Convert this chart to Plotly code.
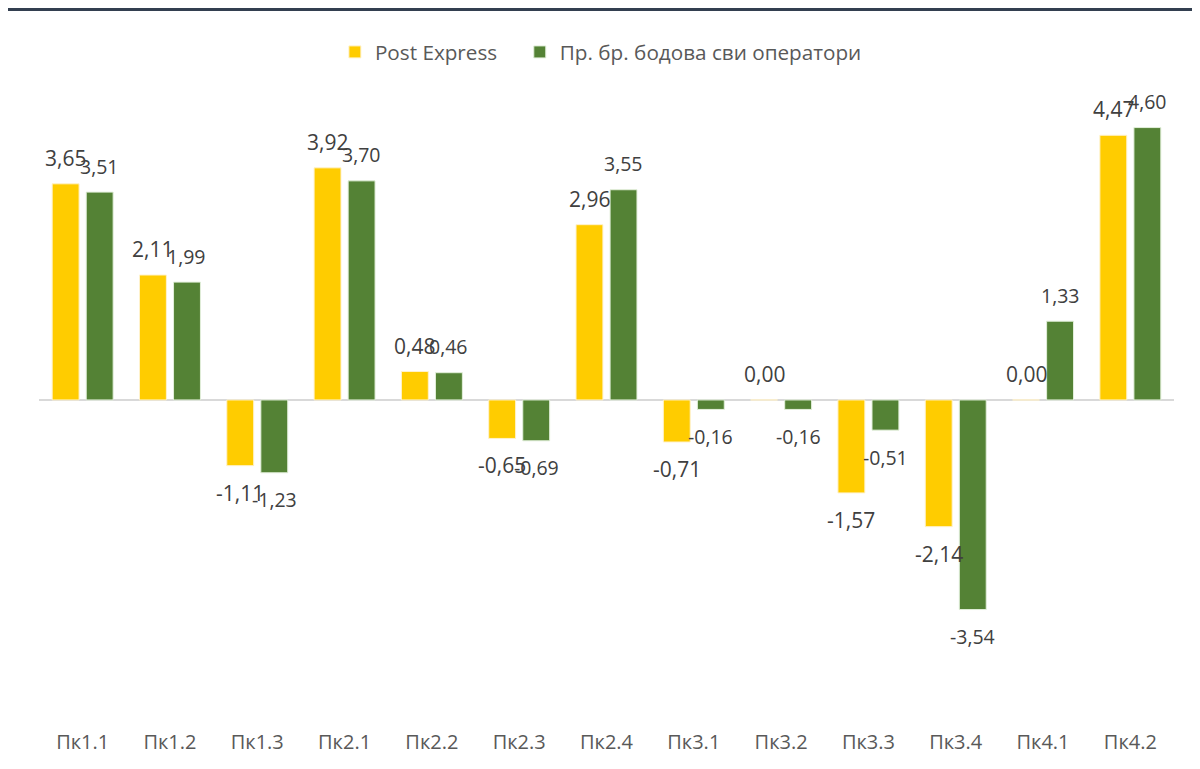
import plotly.graph_objects as go

categories = ["Пк1.1", "Пк1.2", "Пк1.3", "Пк2.1", "Пк2.2", "Пк2.3", "Пк2.4",
              "Пк3.1", "Пк3.2", "Пк3.3", "Пк3.4", "Пк4.1", "Пк4.2"]
post_express = [3.65, 2.11, -1.11, 3.92, 0.48, -0.65, 2.96, -0.71, 0.00, -1.57, -2.14, 0.00, 4.47]
all_operators = [3.51, 1.99, -1.23, 3.70, 0.46, -0.69, 3.55, -0.16, -0.16, -0.51, -3.54, 1.33, 4.60]
series_names = ["Post Express", "Пр. бр. бодова сви оператори"]


def fmt(v):
    return f"{v:.2f}".replace(".", ",")


FONT = "Open Sans"
fig = go.Figure()
fig.add_trace(go.Bar(
    x=categories, y=post_express, name=series_names[0], legend="legend",
    marker=dict(color="#FFCC00", line=dict(color="#FFF2CC", width=1)),
))
fig.add_trace(go.Bar(
    x=categories, y=all_operators, name=series_names[1], legend="legend2",
    marker=dict(color="#548235", line=dict(color="#E2EFDA", width=1)),
))

annotations = []
for series, xs, size in ((post_express, -17, 21), (all_operators, 17, 19.5)):
    for cat, v in zip(categories, series):
        annotations.append(dict(
            x=cat, y=v, xref="x", yref="y", text=fmt(v), showarrow=False,
            xshift=xs, yshift=26 if v >= 0 else -27, yanchor="middle",
            font=dict(family=FONT, size=size, color="#404040"),
        ))

legend_style = dict(orientation="h", xanchor="left", y=1.068, yanchor="middle",
                    font=dict(family=FONT, size=20.7, color="#595959"),
                    bgcolor="rgba(0,0,0,0)")

fig.update_layout(
    width=1200, height=769,
    margin=dict(l=31, r=34, t=87, b=49),
    paper_bgcolor="white", plot_bgcolor="white",
    barmode="group", bargap=0.22, bargroupgap=0.21,
    font=dict(family=FONT, color="#595959"),
    showlegend=True,
    legend=dict(x=0.2607, **legend_style),
    legend2=dict(x=0.4236, **legend_style),
    xaxis=dict(showgrid=False, showline=False, ticks="",
               tickfont=dict(family=FONT, size=20, color="#595959")),
    yaxis=dict(range=[-5.54, 5.15], showgrid=False, showticklabels=False, showline=False,
               zeroline=True, zerolinecolor="#D9D9D9", zerolinewidth=2),
    annotations=annotations,
    shapes=[dict(type="line", xref="paper", yref="paper", x0=-0.03, x1=1.04, y0=1.1351, y1=1.1351,
                 line=dict(color="#333F50", width=3))],
)

fig.write_html("out.html")
